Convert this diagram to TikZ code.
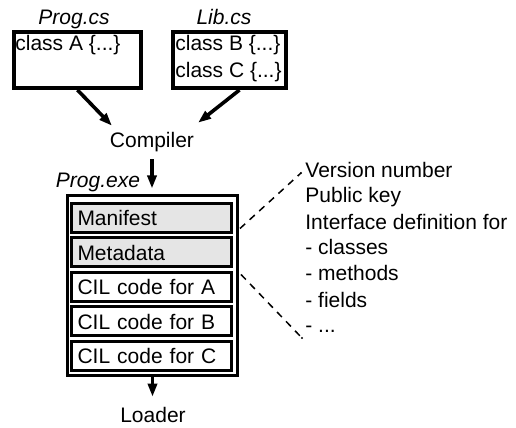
\documentclass[tikz,border=0pt]{standalone}
\usepackage{fontspec}
\setmainfont{Liberation Sans}
\usetikzlibrary{calc,arrows.meta}

\definecolor{cellgray}{RGB}{229,229,229}
\newcommand\diagfont{\fontsize{10.5}{13}\selectfont}

\tikzset{
	flow/.style={line width=1.8pt, -{Triangle[length=6.5pt,width=4.5pt]}},
	srcbox/.style={draw, line width=2pt, minimum height=28pt},
	cell/.style={draw, line width=1.5pt, minimum height=14.5pt, text width=74pt, inner xsep=3pt, align=left},
	filename/.style={font=\diagfont\itshape, inner sep=0pt, anchor=base},
	detail/.style={line width=0.75pt, dash pattern=on 3.5pt off 3pt}
}

\begin{document}
\begin{tikzpicture}[x=0.5pt, y=-0.5pt, font=\diagfont]
\useasboundingbox (0,0) rectangle (516,428);

%% Quellen %%
\node[filename] (progname) at (74,25) {Prog.cs};
\node[filename] (libname) at (224,25) {Lib.cs};
\node[srcbox, minimum width=63.5pt] (progbox) at (77.5,60) {};
\node[srcbox, minimum width=56.5pt] (libbox) at (229.5,60) {};
\node[anchor=base west, inner sep=0pt] (classA) at (15,51) {class A \{...\}};
\node[anchor=base west, inner sep=0pt] (classB) at (175,51) {class B \{...\}};
\node[anchor=base west, inner sep=0pt] (classC) at (175,77) {class C \{...\}};

\node[anchor=base] (compiler) at (152,148) {Compiler};
\draw[flow] (progbox.south) -- ($(compiler.north west)+(9,0)$);
\draw[flow] ($(libbox.south)+(10,0)$) -- ($(compiler.north east)+(-3,-3)$);

%% Assembly %%
\node[filename] (exename) at (98,188) {Prog.exe};
\node[draw, line width=1.5pt, minimum width=85pt, minimum height=90pt] (exe) at (152.5,286) {};
\foreach \name/\y/\col/\txt in {manifest/218/cellgray/Manifest, metadata/252.5/cellgray/Metadata,
	codeA/287/white/CIL code for A, codeB/321.5/white/CIL code for B, codeC/356/white/CIL code for C}
	\node[cell, fill=\col] (\name) at (151.5,\y) {\txt};

\draw[flow, shorten >=3pt] (compiler.south) -- (compiler.south |- exe.north);
\node[anchor=base] (loader) at (153,423) {Loader};
\draw[flow, shorten >=2pt] (exe.south) -- (exe.south |- loader.north);

%% Metadaten %%
\foreach \txt [count=\i] in {Version number, Public key, Interface definition for, - classes, - methods, - fields, - .{}.{}.}
	\node[anchor=base west, inner sep=0pt] (info\i) at (305,{177+26*(\i-1)}) {\txt};
\coordinate (infotop) at (301,173);
\coordinate (infobot) at (302,338);
\draw[detail] ($(manifest.south -| exe.east)+(1,-5.5)$) -- (infotop);
\draw[detail] ($(metadata.south -| exe.east)+(2,6)$) -- (infobot);
\fill (infotop) circle[radius=0.6pt]
	  (infobot) circle[radius=0.6pt];
\end{tikzpicture}
\end{document}
